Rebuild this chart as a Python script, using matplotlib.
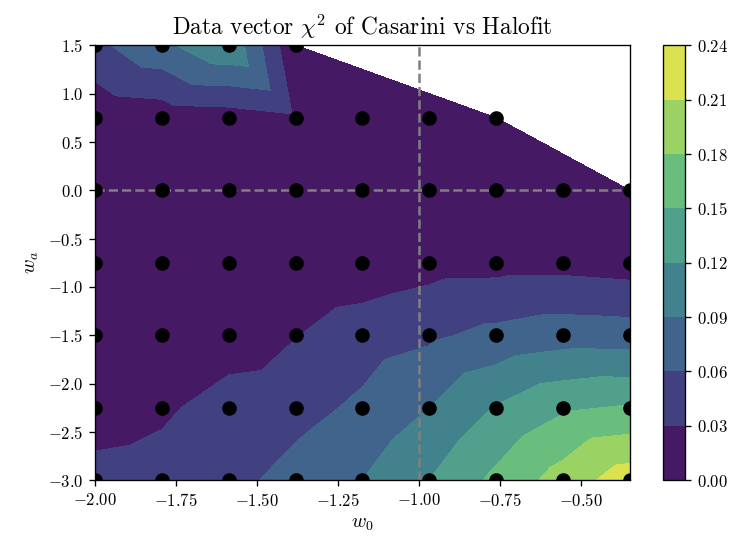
import numpy as np
import matplotlib
matplotlib.use('Agg')
import matplotlib.pyplot as plt
import matplotlib.tri as mtri
from matplotlib.ticker import MultipleLocator

plt.rcParams['font.family'] = 'serif'
plt.rcParams['font.serif'] = ['cmr10']
plt.rcParams['mathtext.fontset'] = 'cm'
plt.rcParams['axes.formatter.use_mathtext'] = True

# grid of cosmologies
w0_vals = [-2.0, -1.79375, -1.5875, -1.38125, -1.175, -0.96875, -0.7625, -0.55625, -0.35]
wa_vals = [1.5, 0.75, 0.0, -0.75, -1.5, -2.25, -3.0]

# chi^2 per row of wa (nan = not computed)
chi2_wa_p150 = [0.053, 0.083, 0.117, 0.002, np.nan, np.nan, np.nan, np.nan, np.nan]
chi2_wa_p075 = [0.007, 0.012, 0.015, 0.025, 0.004, 0.003, 0.003, np.nan, np.nan]
chi2_wa_p000 = [0.004, 0.004, 0.004, 0.003, 0.002, 0.001, 0.002, 0.003, 0.005]
chi2_wa_m075 = [0.002, 0.003, 0.004, 0.006, 0.011, 0.019, 0.020, 0.020, 0.016]
chi2_wa_m150 = [0.004, 0.007, 0.012, 0.029, 0.045, 0.055, 0.068, 0.076, 0.074]
chi2_wa_m225 = [0.015, 0.024, 0.045, 0.049, 0.066, 0.090, 0.122, 0.146, 0.153]
chi2_wa_m300 = [0.040, 0.044, 0.050, 0.072, 0.090, 0.120, 0.157, 0.193, 0.227]

chi2 = np.array([chi2_wa_p150, chi2_wa_p075, chi2_wa_p000, chi2_wa_m075,
                 chi2_wa_m150, chi2_wa_m225, chi2_wa_m300])

# which diagonal splits each grid cell (u = lower-left to upper-right, d = upper-left to lower-right)
cell_diag = ['uudddddd',
             'dddddddd',
             'dddddddd',
             'dddddddd',
             'dudddddd',
             'duuddddd']

# band colours as they appear in the figure
band_colors = ['#461964', '#414182', '#41648c', '#41828c',
               '#50a08c', '#69be7d', '#9bd264', '#dce150']

W0, WA = np.meshgrid(w0_vals, wa_vals)
ok = ~np.isnan(chi2)
x = W0[ok]
y = WA[ok]
z = chi2[ok]

idx = -np.ones(chi2.shape, dtype=int)
idx[ok] = np.arange(ok.sum())
nrow, ncol = chi2.shape

triangles = []
full_cell = np.zeros((nrow - 1, ncol - 1), dtype=bool)
for i in range(nrow - 1):
    for j in range(ncol - 1):
        tl, tr = idx[i, j], idx[i, j + 1]
        bl, br = idx[i + 1, j], idx[i + 1, j + 1]
        if min(tl, tr, bl, br) < 0:
            continue
        full_cell[i, j] = True
        if cell_diag[i][j] == 'u':
            triangles += [[bl, br, tr], [bl, tr, tl]]
        else:
            triangles += [[tl, bl, br], [tl, br, tr]]

# edge of the computed region: take the Delaunay triangles there
dx = w0_vals[1] - w0_vals[0]
dy = wa_vals[0] - wa_vals[1]
dela = mtri.Triangulation(x + 0.05 * y, y)
for t in dela.triangles:
    cx = x[t].mean()
    cy = y[t].mean()
    j = int(np.floor((cx - w0_vals[0]) / dx))
    i = int(np.floor((wa_vals[0] - cy) / dy))
    if not full_cell[i, j]:
        triangles.append(list(t))

tri = mtri.Triangulation(x, y, np.array(triangles))

levels = np.linspace(0, 0.24, 9)

fig = plt.figure(figsize=(6.24, 4.6), dpi=120)
ax = fig.add_axes([0.127, 0.13, 0.714, 0.788])
cax = fig.add_axes([0.885, 0.13, 0.03, 0.788])

cs = ax.tricontourf(tri, z, levels=levels, colors=band_colors)
ax.scatter(x, y, c='black', s=60, zorder=3)
ax.axvline(-1.0, color='gray', ls='--', lw=1.5)
ax.axhline(0.0, color='gray', ls='--', lw=1.5)

ax.set_xlim(-2.0, -0.35)
ax.set_ylim(-3.0, 1.5)
ax.xaxis.set_major_locator(MultipleLocator(0.25))
ax.yaxis.set_major_locator(MultipleLocator(0.5))
ax.set_xlabel(r'$w_0$', fontsize=12)
ax.set_ylabel(r'$w_a$', fontsize=12)
ax.set_title(r'Data vector $\chi^2$ of Casarini vs Halofit', fontsize=14)

cb = fig.colorbar(cs, cax=cax)
cb.set_ticks(levels)

fig.savefig('out.png', dpi=120)
